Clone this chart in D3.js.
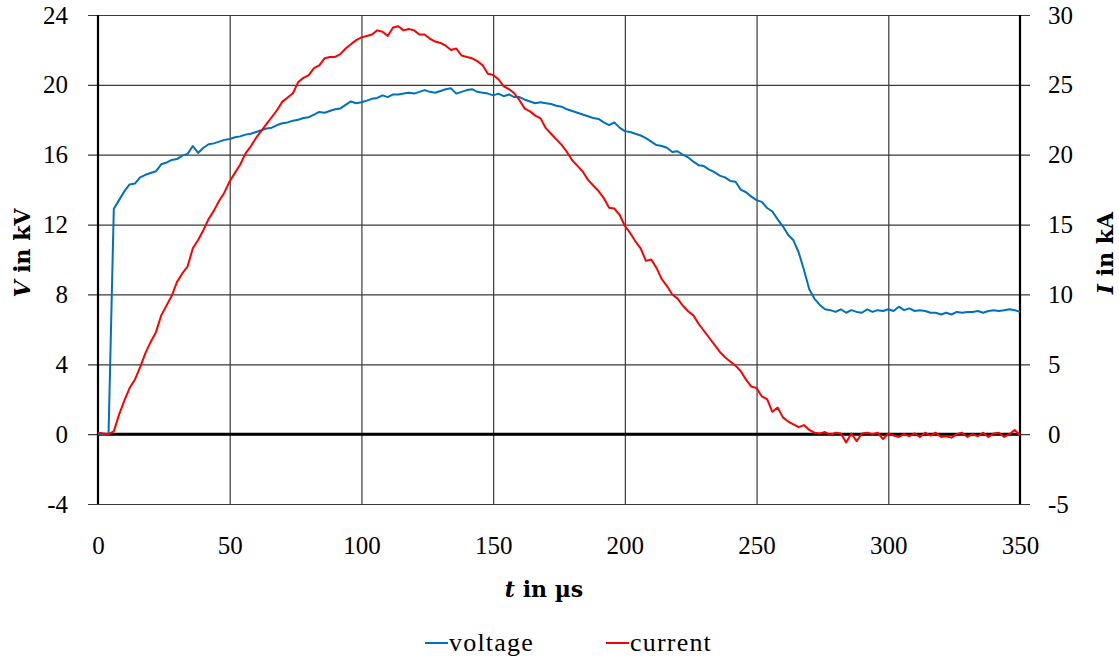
<!DOCTYPE html>
<html>
<head>
<meta charset="utf-8">
<script src="https://cdn.jsdelivr.net/npm/d3@7"></script>
<style>
  body { margin: 0; background: #fff; }
  svg text { font-family: "Liberation Serif", "DejaVu Serif", serif; fill: #000; }
  svg text.title { font-family: "DejaVu Serif", serif; }
</style>
</head>
<body>
<svg id="chart" width="1119" height="658"></svg>
<script>
// sample times in µs (2 µs step)
const dt = 2
const time = d3.range(0, 351, dt)

// voltage in kV
const voltage = [
  0.0, -0.05, 0.0, 12.9, 13.4, 13.9, 14.3, 14.35, 14.7, 14.85,
  14.95, 15.05, 15.45, 15.55, 15.7, 15.75, 15.95, 16.05, 16.5, 16.1,
  16.4, 16.6, 16.65, 16.75, 16.85, 16.9, 17.0, 17.05, 17.15, 17.2,
  17.3, 17.4, 17.5, 17.55, 17.7, 17.8, 17.85, 17.95, 18.0, 18.1,
  18.15, 18.3, 18.45, 18.4, 18.5, 18.6, 18.65, 18.85, 19.05, 18.95,
  19.0, 19.1, 19.2, 19.25, 19.4, 19.3, 19.45, 19.45, 19.5, 19.55,
  19.5, 19.6, 19.7, 19.6, 19.55, 19.65, 19.75, 19.8, 19.5, 19.6,
  19.7, 19.75, 19.6, 19.55, 19.5, 19.4, 19.5, 19.35, 19.45, 19.3,
  19.3, 19.15, 19.05, 18.95, 19.0, 18.95, 18.9, 18.8, 18.75, 18.6,
  18.5, 18.4, 18.3, 18.2, 18.1, 18.05, 17.85, 17.7, 17.85, 17.55,
  17.35, 17.3, 17.2, 17.1, 16.95, 16.75, 16.55, 16.5, 16.4, 16.15,
  16.2, 16.0, 15.85, 15.6, 15.4, 15.35, 15.15, 15.0, 14.8, 14.7,
  14.5, 14.45, 14.0, 13.85, 13.6, 13.4, 13.3, 12.95, 12.75, 12.3,
  11.9, 11.4, 11.1, 10.4, 9.4, 8.3, 7.75, 7.4, 7.15, 7.1,
  7.0, 7.15, 6.95, 7.1, 7.0, 6.95, 7.15, 7.0, 7.1, 7.05,
  7.15, 7.05, 7.3, 7.1, 7.2, 7.05, 7.1, 7.05, 6.95, 6.95,
  6.85, 6.95, 6.85, 7.0, 6.95, 7.0, 7.0, 7.05, 6.95, 7.05,
  7.1, 7.05, 7.1, 7.15, 7.1, 7.0
]

// current in kA
const current = [
  0.1, 0.05, 0.0, 0.2, 1.4, 2.4, 3.3, 3.9, 4.8, 5.8,
  6.6, 7.3, 8.5, 9.2, 9.9, 10.9, 11.5, 12.0, 13.3, 13.9,
  14.6, 15.4, 16.0, 16.7, 17.3, 18.1, 18.7, 19.3, 20.1, 20.6,
  21.2, 21.7, 22.2, 22.7, 23.2, 23.8, 24.1, 24.4, 25.2, 25.5,
  25.7, 26.2, 26.4, 26.9, 27.0, 27.0, 27.2, 27.6, 27.9, 28.2,
  28.4, 28.5, 28.6, 28.9, 28.8, 28.5, 29.1, 29.2, 28.9, 29.0,
  28.9, 28.6, 28.6, 28.3, 28.1, 28.0, 27.8, 27.5, 27.6, 27.1,
  27.0, 26.9, 26.7, 26.4, 25.8, 25.7, 25.4, 24.9, 24.7, 24.4,
  23.9, 23.3, 23.1, 22.8, 22.6, 21.9, 21.5, 21.1, 20.7, 20.2,
  19.6, 19.2, 18.8, 18.2, 17.8, 17.4, 16.9, 16.2, 16.15, 15.7,
  14.9, 14.4, 13.8, 13.3, 12.4, 12.5, 11.9, 11.1, 10.6, 10.0,
  9.7, 9.2, 8.8, 8.5, 7.9, 7.4, 6.9, 6.4, 5.9, 5.5,
  5.2, 4.9, 4.5, 3.9, 3.4, 3.3, 2.7, 2.5, 1.6, 1.9,
  1.2, 0.9, 0.7, 0.5, 0.65, 0.3, 0.1, 0.05, 0.15, -0.05,
  0.1, 0.05, -0.6, 0.05, -0.5, 0.05, 0.1, 0.0, 0.1, -0.35,
  0.05, -0.1, -0.2, 0.0, -0.15, 0.05, -0.2, 0.1, -0.1, 0.1,
  -0.2, -0.15, -0.25, 0.0, 0.1, -0.2, 0.0, -0.15, 0.1, -0.2,
  0.05, 0.1, -0.2, 0.0, 0.3, -0.1
]

const xTicks = [0, 50, 100, 150, 200, 250, 300, 350]
const vTicks = [-4, 0, 4, 8, 12, 16, 20, 24]
const iTicks = [-5, 0, 5, 10, 15, 20, 25, 30]
const seriesNames = ["voltage", "current"]
const seriesColors = ["#0070C0", "#FF0000"]

var svg = d3.select("#chart")
var m = {left: 98, right: 1020, top: 15, bottom: 504}

var x = d3.scaleLinear().domain([0, 350]).range([m.left, m.right])
var yV = d3.scaleLinear().domain([-4, 24]).range([m.bottom, m.top])
var yI = d3.scaleLinear().domain([-5, 30]).range([m.bottom, m.top])

// plain hyphen minus like the original
var fmt = function(d) { return String(d) }

// horizontal grid, sticking out 10px both sides like ticks
svg.append("g")
  .attr("transform", "translate(" + (m.right + 10) + ",0)")
  .call(d3.axisLeft(yV).tickValues(vTicks).tickSize(m.right - m.left + 20).tickFormat(""))
  .call(g => g.select(".domain").remove())
  .selectAll("line").attr("stroke", "#3a3a3a").attr("stroke-width", 1.2)

// vertical grid
svg.append("g")
  .attr("transform", "translate(0," + m.bottom + ")")
  .call(d3.axisTop(x).tickValues(xTicks.slice(1, -1)).tickSize(m.bottom - m.top).tickFormat(""))
  .call(g => g.select(".domain").remove())
  .selectAll("line").attr("stroke", "#3a3a3a").attr("stroke-width", 1.2)

// tick labels
var fs = 25
svg.append("g")
  .attr("transform", "translate(" + m.left + ",0)")
  .call(d3.axisLeft(yV).tickValues(vTicks).tickFormat(fmt).tickSize(0).tickPadding(30))
  .call(g => g.select(".domain").remove())
  .selectAll("text").attr("font-size", fs).attr("font-family", null)

svg.append("g")
  .attr("transform", "translate(" + m.right + ",0)")
  .call(d3.axisRight(yI).tickValues(iTicks).tickFormat(fmt).tickSize(0).tickPadding(28))
  .call(g => g.select(".domain").remove())
  .selectAll("text").attr("font-size", fs).attr("font-family", null)

svg.append("g")
  .attr("transform", "translate(0," + m.bottom + ")")
  .call(d3.axisBottom(x).tickValues(xTicks).tickFormat(fmt).tickSize(0).tickPadding(32))
  .call(g => g.select(".domain").remove())
  .selectAll("text").attr("font-size", fs).attr("font-family", null)

// axis frame lines
svg.append("line").attr("x1", m.left).attr("x2", m.left).attr("y1", m.top).attr("y2", m.bottom)
  .attr("stroke", "#000").attr("stroke-width", 2.2)
svg.append("line").attr("x1", m.right).attr("x2", m.right).attr("y1", m.top).attr("y2", m.bottom)
  .attr("stroke", "#000").attr("stroke-width", 2.2)
svg.append("line").attr("x1", m.left).attr("x2", m.right).attr("y1", yV(0)).attr("y2", yV(0))
  .attr("stroke", "#000").attr("stroke-width", 3)

// series
var lineV = d3.line().x((d, i) => x(time[i])).y(d => yV(d))
var lineI = d3.line().x((d, i) => x(time[i])).y(d => yI(d))

svg.append("path").datum(voltage)
  .attr("d", lineV).attr("fill", "none")
  .attr("stroke", seriesColors[0]).attr("stroke-width", 2).attr("stroke-linejoin", "round")
svg.append("path").datum(current)
  .attr("d", lineI).attr("fill", "none")
  .attr("stroke", seriesColors[1]).attr("stroke-width", 2).attr("stroke-linejoin", "round")

// axis titles
var tfs = 22
var tx = svg.append("text").attr("class", "title").attr("x", 544).attr("y", 597)
  .attr("text-anchor", "middle").attr("font-size", tfs).attr("font-weight", "bold")
tx.append("tspan").attr("font-style", "italic").text("t")
tx.append("tspan").text(" in µs")

var tl = svg.append("text").attr("class", "title").attr("transform", "translate(30,253) rotate(-90)")
  .attr("text-anchor", "middle").attr("font-size", tfs).attr("font-weight", "bold")
tl.append("tspan").attr("font-style", "italic").text("V")
tl.append("tspan").text(" in kV")

var tr = svg.append("text").attr("class", "title").attr("transform", "translate(1113,253) rotate(-90)")
  .attr("text-anchor", "middle").attr("font-size", tfs).attr("font-weight", "bold")
tr.append("tspan").attr("font-style", "italic").text("I")
tr.append("tspan").text(" in kA")

// legend
var legX = [425, 606]
seriesNames.forEach(function(name, i) {
  var g = svg.append("g").attr("transform", "translate(" + legX[i] + ",643)")
  g.append("line").attr("x1", 0).attr("x2", 23).attr("y1", 0).attr("y2", 0)
    .attr("stroke", seriesColors[i]).attr("stroke-width", 2)
  g.append("text").attr("x", 24).attr("y", 8).attr("font-size", 26)
    .attr("letter-spacing", 1.2).text(name)
})
</script>
</body>
</html>
